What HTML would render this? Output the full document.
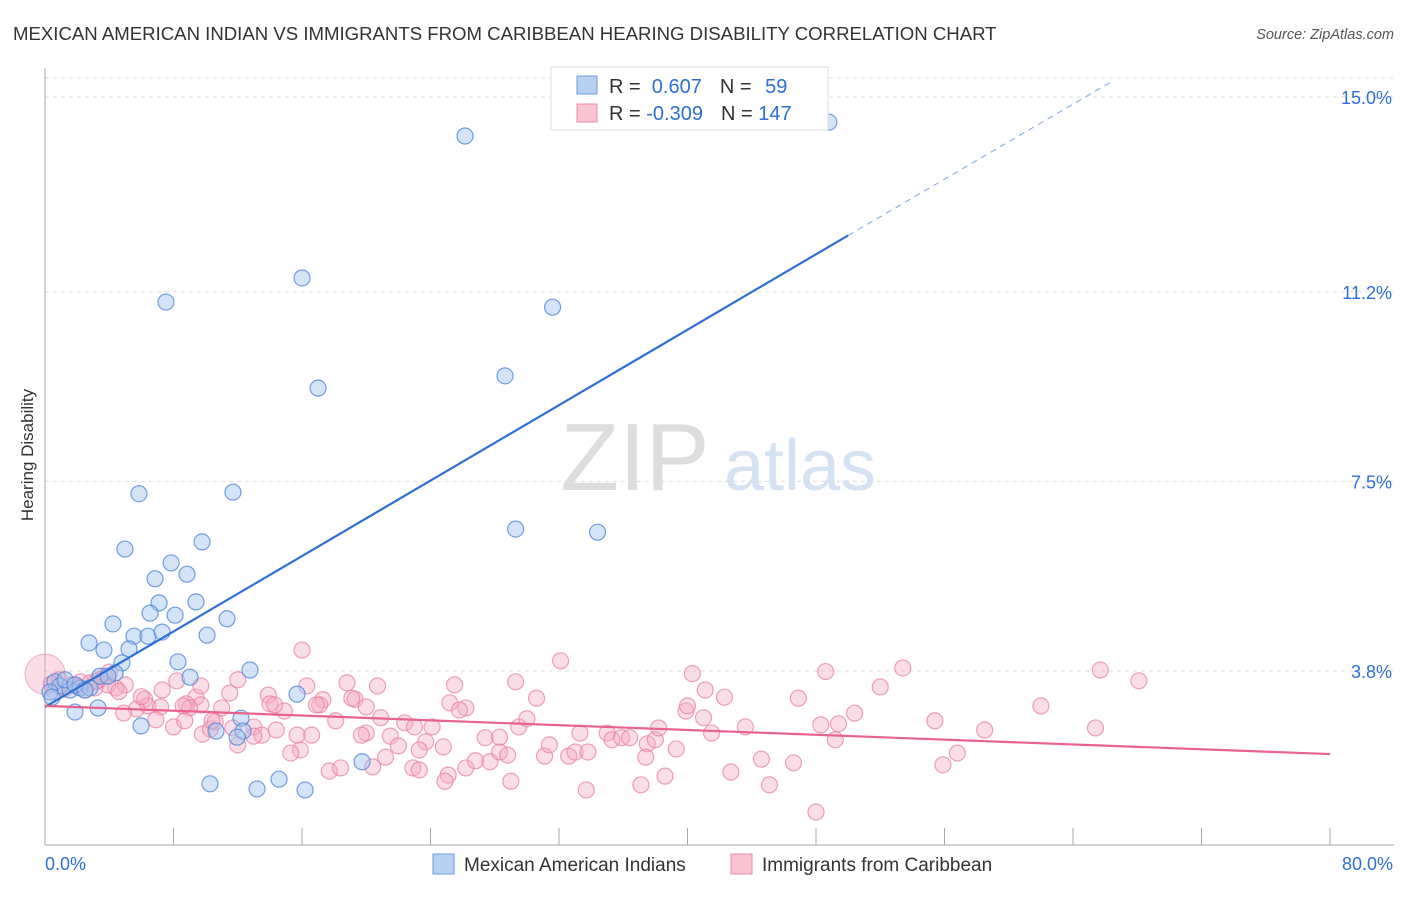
<!DOCTYPE html>
<html><head><meta charset="utf-8"><style>
body{margin:0;background:#fff;font-family:"Liberation Sans",sans-serif;}
svg text{font-family:"Liberation Sans",sans-serif;}
</style></head><body>
<svg id="chart" width="1406" height="892" xmlns="http://www.w3.org/2000/svg">
<text x="13" y="40" font-size="18.6" fill="#333">MEXICAN AMERICAN INDIAN VS IMMIGRANTS FROM CARIBBEAN HEARING DISABILITY CORRELATION CHART</text>
<text x="1394" y="39" font-size="14.5" fill="#555" font-style="italic" text-anchor="end">Source: ZipAtlas.com</text>
<text transform="translate(33,455) rotate(-90)" font-size="17" fill="#333" text-anchor="middle">Hearing Disability</text>
<g>
<text x="635" y="490" font-size="96" fill="#ddd" font-family="Liberation Serif" text-anchor="middle">ZIP</text>
<text x="800" y="490" font-size="72" fill="#d4e2f4" text-anchor="middle">atlas</text>
</g>
<g id="grid"></g><g id="axes"></g><g id="pink"></g><g id="blue"></g><g id="lines"></g>
<g>
<rect x="551" y="67" width="277" height="63" fill="#fff" stroke="#ddd"/>
<rect x="577" y="76" width="20" height="18" fill="#b7d1f3" stroke="#6a9be0"/>
<rect x="577" y="104" width="20" height="18" fill="#f8c3d2" stroke="#e88aa8"/>
<text x="609" y="93" font-size="20" fill="#333">R = <tspan fill="#2d6fd6">&#160;0.607</tspan><tspan dx="18">N = </tspan><tspan fill="#2d6fd6" dx="8">59</tspan></text>
<text x="609" y="120" font-size="20" fill="#333">R = <tspan fill="#2d6fd6">-0.309</tspan><tspan dx="18">N = </tspan><tspan fill="#2d6fd6">147</tspan></text>
</g>
<g>
<rect x="433" y="854" width="21" height="20" fill="#b7d1f3" stroke="#6a9be0"/>
<text x="464" y="871" font-size="19" fill="#333">Mexican American Indians</text>
<rect x="731" y="854" width="21" height="20" fill="#f8c3d2" stroke="#e88aa8"/>
<text x="762" y="871" font-size="19" fill="#333">Immigrants from Caribbean</text>
</g>
</svg>
<script>
const yTicks=[15.0,11.2,7.5,3.8];
const yTickLabels=["15.0%","11.2%","7.5%","3.8%"];
const xTicks=[0,8,16,24,32,40,48,56,64,72,80];
const blueX=[26.15,48.8,16.0,7.53,31.6,17.0,28.64,5.85,11.7,29.3,34.4,4.98,9.78,7.85,6.85,8.84,9.4,7.1,6.54,8.1,4.23,11.33,2.74,5.54,6.41,7.29,10.09,3.67,5.23,8.28,4.79,12.76,9.03,3.42,4.36,3.92,15.69,0.62,0.93,1.56,2.18,2.8,1.25,0.31,1.87,0.44,3.3,1.87,5.98,12.2,10.65,12.33,11.96,19.74,10.27,14.57,13.2,16.19,2.49];
const blueY=[14.24,14.51,11.47,11.0,10.9,9.32,9.56,7.26,7.29,6.57,6.51,6.18,6.32,5.91,5.6,5.69,5.15,5.13,4.93,4.89,4.72,4.82,4.35,4.48,4.48,4.56,4.5,4.21,4.23,3.98,3.96,3.82,3.68,3.7,3.76,3.7,3.35,3.59,3.51,3.43,3.47,3.47,3.63,3.39,3.53,3.29,3.08,3.0,2.73,2.88,2.63,2.63,2.51,2.03,1.6,1.69,1.5,1.48,3.43];
const pinkX=[16.0,32.1,40.3,48.6,53.4,65.7,68.1,52.0,29.3,25.5,18.8,20.7,12.0,16.3,41.1,42.3,46.9,30.6,25.2,26.2,25.8,19.3,19.1,17.3,17.1,16.9,13.9,14.0,11.5,9.4,9.7,8.8,8.2,7.3,6.2,6.4,5.7,4.9,7.2,9.0,11.0,6.9,8.0,9.8,10.3,10.6,11.7,13.0,13.5,14.9,14.4,15.7,15.9,15.3,16.6,18.1,20.0,20.9,20.0,19.7,21.5,22.4,23.0,24.1,23.7,23.3,22.0,21.2,22.9,24.8,23.3,25.1,24.9,26.2,27.7,28.3,28.8,27.4,28.3,29.5,30.0,31.1,31.4,32.6,33.0,33.8,33.3,35.0,35.3,35.9,36.4,37.5,38.0,38.2,37.4,39.9,40.0,41.0,41.5,39.3,38.6,37.1,33.7,29.0,26.8,42.7,44.6,45.1,46.6,48.0,49.2,49.4,50.4,43.6,48.3,55.4,58.5,62.0,65.4,56.8,55.9,17.7,18.4,20.4,5.0,4.4,3.9,3.4,3.1,2.8,4.0,3.7,2.2,1.6,0.9,0.4,2.5,9.7,8.6,14.3,12.0,13.0,10.4,8.7,1.2,2.0,0.6,3.2,6.0,4.6];
const pinkY=[4.21,4.0,3.75,3.79,3.86,3.82,3.61,3.49,3.59,3.53,3.57,3.51,3.63,3.51,3.43,3.29,3.27,3.27,3.18,3.08,3.04,3.25,3.27,3.24,3.14,3.14,3.33,3.16,3.37,3.29,3.14,3.16,3.61,3.43,3.25,3.12,3.06,2.98,3.1,3.08,3.08,2.85,2.71,2.57,2.67,2.81,2.69,2.71,2.55,3.02,2.65,2.55,2.26,2.2,2.55,2.83,3.1,2.89,2.59,2.55,2.53,2.79,2.71,2.71,2.42,2.26,2.34,2.12,1.91,2.32,1.87,1.77,1.65,1.91,2.03,2.22,2.16,2.5,2.51,2.71,2.87,2.14,2.36,2.14,2.22,2.22,2.59,2.59,2.46,2.5,2.5,2.38,2.46,2.69,2.12,3.02,3.12,2.89,2.59,2.28,1.75,1.58,1.48,1.65,2.05,1.83,2.08,1.58,2.01,1.05,2.46,2.77,2.98,2.71,2.75,2.83,2.65,3.12,2.69,2.2,1.97,1.85,1.91,1.93,3.53,3.47,3.53,3.63,3.47,3.57,3.78,3.7,3.59,3.53,3.63,3.55,3.43,3.51,3.12,3.14,2.36,2.53,2.83,2.83,3.45,3.5,3.4,3.6,3.3,3.4];
const blueTrend=[[0,3.1],[50,12.3],[66.4,15.3]];
const pinkTrend=[[0,3.12],[80,2.18]];
const NS="http://www.w3.org/2000/svg";
const xs=v=>45+v*16.0625, ys=v=>865.8-v*51.25;
function mk(p,t,a){const e=document.createElementNS(NS,t);for(const k in a)e.setAttribute(k,a[k]);p.appendChild(e);return e;}
const grid=document.getElementById('grid');
const topLine=mk(grid,'line',{x1:45,x2:1394,y1:78,y2:78,stroke:'#ddd','stroke-dasharray':'4,4'});


yTicks.forEach((t,i)=>{
 const l=mk(grid,'line',{x1:45,x2:1394,y1:ys(t),y2:ys(t),stroke:'#ddd','stroke-dasharray':'4,4'});
 
 
 const tx=mk(grid,'text',{x:1392,y:ys(t)+7,'font-size':18,fill:'#2d6fd6','text-anchor':'end'});
 tx.textContent=yTickLabels[i];
 
 
});
const axes=document.getElementById('axes');
const ya=mk(axes,'line',{x1:45,x2:45,y1:68,y2:845,stroke:'#aaa'});


const xa=mk(axes,'line',{x1:45,x2:1394,y1:845,y2:845,stroke:'#aaa'});


xTicks.forEach(t=>{
 const l=mk(axes,'line',{x1:xs(t),x2:xs(t),y1:828,y2:845,stroke:'#aaa'});
 
 
});
const xMinLabel=mk(axes,'text',{x:45,y:870,'font-size':18,fill:'#2d6fd6'});xMinLabel.textContent='0.0%';


const xMaxLabel=mk(axes,'text',{x:1393,y:870,'font-size':18,fill:'#2d6fd6','text-anchor':'end'});xMaxLabel.textContent='80.0%';


const pg=document.getElementById('pink');
const big=mk(pg,'circle',{cx:xs(0),cy:ys(3.74),r:20,fill:'rgba(244,170,195,0.4)',stroke:'rgba(232,130,165,0.6)'});


pinkX.forEach((v,i)=>{
 const c=mk(pg,'circle',{cx:xs(v),cy:ys(pinkY[i]),r:8,fill:'rgba(244,170,195,0.4)',stroke:'rgba(232,130,165,0.75)','stroke-width':1.2});
 
 
});
const bg=document.getElementById('blue');
blueX.forEach((v,i)=>{
 const c=mk(bg,'circle',{cx:xs(v),cy:ys(blueY[i]),r:8,fill:'rgba(160,195,240,0.45)',stroke:'rgba(80,135,215,0.8)','stroke-width':1.2});
 
 
});
const lg=document.getElementById('lines');
const b1=mk(lg,'line',{x1:xs(blueTrend[0][0]),y1:ys(blueTrend[0][1]),x2:xs(blueTrend[1][0]),y2:ys(blueTrend[1][1]),stroke:'#2d6fd6','stroke-width':2.2});


const b2=mk(lg,'line',{x1:xs(blueTrend[1][0]),y1:ys(blueTrend[1][1]),x2:xs(blueTrend[2][0]),y2:ys(blueTrend[2][1]),stroke:'#7aa6e6','stroke-width':1,'stroke-dasharray':'6,5'});


const p1=mk(lg,'line',{x1:xs(pinkTrend[0][0]),y1:ys(pinkTrend[0][1]),x2:xs(pinkTrend[1][0]),y2:ys(pinkTrend[1][1]),stroke:'#e8628e','stroke-width':2.2});


</script>
</body></html>
